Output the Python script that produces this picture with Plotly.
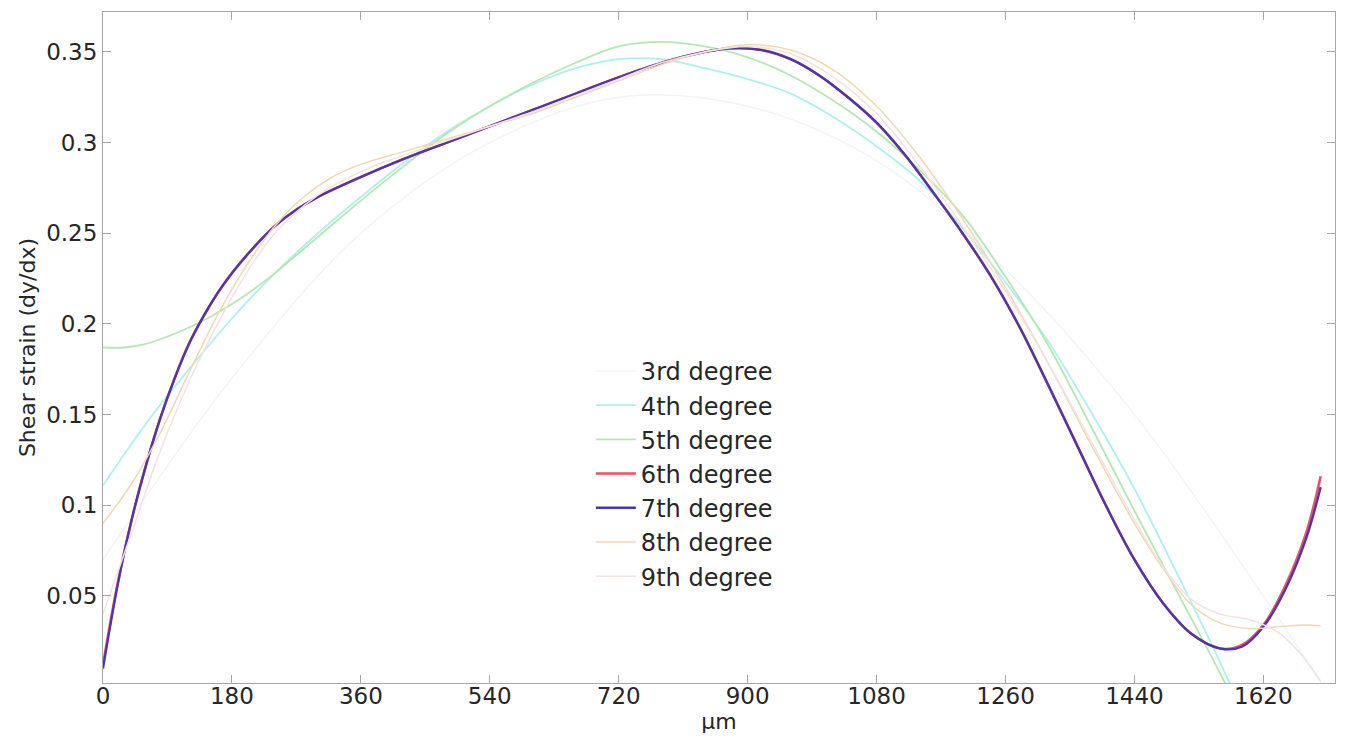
import plotly.graph_objects as go

# ---- data (x in µm, y = shear strain) ----
x_main = [0, 20, 40, 60, 80, 100, 120, 140, 160, 180, 210, 240, 270, 300, 360, 420, 480, 540,
          600, 660, 720, 780, 840, 880, 920, 960, 1000, 1040, 1080, 1120, 1160, 1200, 1240,
          1280, 1320, 1360, 1400, 1440, 1480, 1520, 1560, 1590, 1620, 1650, 1680, 1700]
y_deg7 = [0.010, 0.055, 0.092, 0.122, 0.148, 0.170, 0.189, 0.204, 0.217, 0.228, 0.242, 0.254,
          0.263, 0.270, 0.281, 0.291, 0.300, 0.309, 0.318, 0.327, 0.336, 0.344, 0.350, 0.352,
          0.351, 0.346, 0.337, 0.325, 0.311, 0.293, 0.272, 0.250, 0.226, 0.198, 0.166, 0.133,
          0.100, 0.070, 0.046, 0.029, 0.021, 0.022, 0.033, 0.053, 0.082, 0.110]
y_deg6 = [0.012, 0.056, 0.092, 0.122, 0.148, 0.170, 0.189, 0.204, 0.217, 0.228, 0.242, 0.254,
          0.263, 0.270, 0.281, 0.291, 0.300, 0.309, 0.318, 0.327, 0.336, 0.344, 0.350, 0.352,
          0.351, 0.346, 0.337, 0.325, 0.311, 0.293, 0.272, 0.250, 0.226, 0.198, 0.166, 0.133,
          0.100, 0.070, 0.046, 0.029, 0.021, 0.023, 0.034, 0.055, 0.085, 0.116]

x_deg5 = [0, 30, 60, 90, 120, 150, 180, 210, 240, 270, 300, 360, 420, 480, 540, 600, 660, 720,
          780, 840, 900, 960, 1020, 1080, 1140, 1200, 1260, 1320, 1380, 1440, 1500, 1560, 1600]
y_deg5 = [0.187, 0.187, 0.189, 0.193, 0.198, 0.204, 0.211, 0.219, 0.228, 0.238, 0.248, 0.268,
          0.287, 0.305, 0.320, 0.333, 0.344, 0.353, 0.3555, 0.353, 0.347, 0.337, 0.323, 0.306,
          0.285, 0.260, 0.226, 0.188, 0.143, 0.097, 0.052, 0.007, -0.025]

x_deg4 = [0, 60, 120, 180, 240, 300, 360, 420, 480, 540, 600, 660, 720, 780, 840, 900, 960,
          1020, 1080, 1140, 1200, 1260, 1320, 1380, 1440, 1500, 1560, 1600]
y_deg4 = [0.111, 0.145, 0.175, 0.203, 0.228, 0.250, 0.270, 0.289, 0.306, 0.320, 0.332, 0.341,
          0.346, 0.346, 0.341, 0.335, 0.327, 0.314, 0.298, 0.279, 0.253, 0.223, 0.190, 0.151,
          0.109, 0.062, 0.013, -0.022]

x_deg3 = [0, 180, 360, 540, 720, 900, 1080, 1260, 1440, 1620, 1720]
y_deg3 = [0.070, 0.170, 0.250, 0.300, 0.325, 0.320, 0.290, 0.230, 0.150, 0.050, -0.010]

x_deg8 = [0, 40, 80, 120, 160, 200, 240, 280, 320, 360, 420, 480, 540, 600, 660, 720, 780, 840,
          900, 960, 1020, 1080, 1140, 1200, 1260, 1320, 1380, 1440, 1480, 1520, 1560, 1600, 1640,
          1680, 1700]
y_deg8 = [0.090, 0.112, 0.140, 0.173, 0.205, 0.232, 0.254, 0.270, 0.281, 0.288, 0.295, 0.302,
          0.309, 0.316, 0.325, 0.334, 0.343, 0.350, 0.354, 0.351, 0.340, 0.320, 0.292, 0.258,
          0.220, 0.178, 0.133, 0.090, 0.065, 0.045, 0.035, 0.032, 0.033, 0.034, 0.0335]

x_deg9 = [0, 40, 80, 120, 160, 200, 240, 300, 360, 420, 480, 540, 600, 660, 720, 780, 840, 900,
          960, 1020, 1080, 1140, 1200, 1260, 1320, 1380, 1440, 1480, 1520, 1560, 1600, 1640,
          1670, 1700]
y_deg9 = [0.040, 0.085, 0.130, 0.168, 0.200, 0.228, 0.250, 0.271, 0.284, 0.293, 0.301, 0.309,
          0.317, 0.326, 0.335, 0.344, 0.350, 0.353, 0.349, 0.336, 0.316, 0.287, 0.254, 0.218,
          0.178, 0.135, 0.092, 0.066, 0.048, 0.040, 0.037, 0.030, 0.019, 0.003]

series = [
    ("3rd degree", x_deg3, y_deg3, "#f2f4f7", 1.5),
    ("4th degree", x_deg4, y_deg4, "#aef0ee", 1.8),
    ("5th degree", x_deg5, y_deg5, "#b6e6b4", 1.8),
    ("6th degree", x_main, y_deg6, "#e8506e", 2.6),
    ("7th degree", x_main, y_deg7, "#4838a8", 2.3),
    ("8th degree", x_deg8, y_deg8, "#efd9b4", 1.5),
    ("9th degree", x_deg9, y_deg9, "#f3e2e2", 1.5),
]

x_ticks = [0, 180, 360, 540, 720, 900, 1080, 1260, 1440, 1620]
y_ticks = [0.05, 0.1, 0.15, 0.2, 0.25, 0.3, 0.35]

fig = go.Figure()
for name, xs, ys, color, w in series:
    fig.add_trace(go.Scatter(x=xs, y=ys, mode="lines", name=name, legendgroup=name,
                             line=dict(color=color, width=w, shape="spline", smoothing=1.0)))

font_family = "DejaVu Sans, sans-serif"
txt = "#262626"
fig.update_layout(
    width=1329, height=727,
    margin=dict(l=95, r=2, t=4, b=52, autoexpand=False),
    paper_bgcolor="white", plot_bgcolor="white",
    font=dict(family=font_family, size=23, color=txt),
    showlegend=True,
    legend=dict(x=0.396, y=0.498, xanchor="left", yanchor="top",
                bgcolor="rgba(255,255,255,0)", borderwidth=0, tracegroupgap=0,
                font=dict(size=24, color=txt), itemwidth=40),
)
fig.update_xaxes(range=[0, 1720], tickvals=x_ticks, ticktext=[str(v) for v in x_ticks],
                 showgrid=False, zeroline=False, showline=True, linecolor="#a8a8a8",
                 linewidth=1, mirror="ticks", ticks="inside", ticklen=8, tickcolor="#a8a8a8",
                 automargin=False, ticklabelstandoff=-8,
                 title=dict(text="µm", standoff=0, font=dict(size=22)),
                 tickfont=dict(size=23))
fig.update_yaxes(range=[0.002, 0.372], tickvals=y_ticks, ticktext=[str(v) for v in y_ticks],
                 showgrid=False, zeroline=False, showline=True, linecolor="#a8a8a8",
                 linewidth=1, mirror="ticks", ticks="inside", ticklen=8, tickcolor="#a8a8a8",
                 automargin=False,
                 title=dict(text="Shear strain (dy/dx)", standoff=4, font=dict(size=22)),
                 tickfont=dict(size=23))

fig.write_html("out.html")
